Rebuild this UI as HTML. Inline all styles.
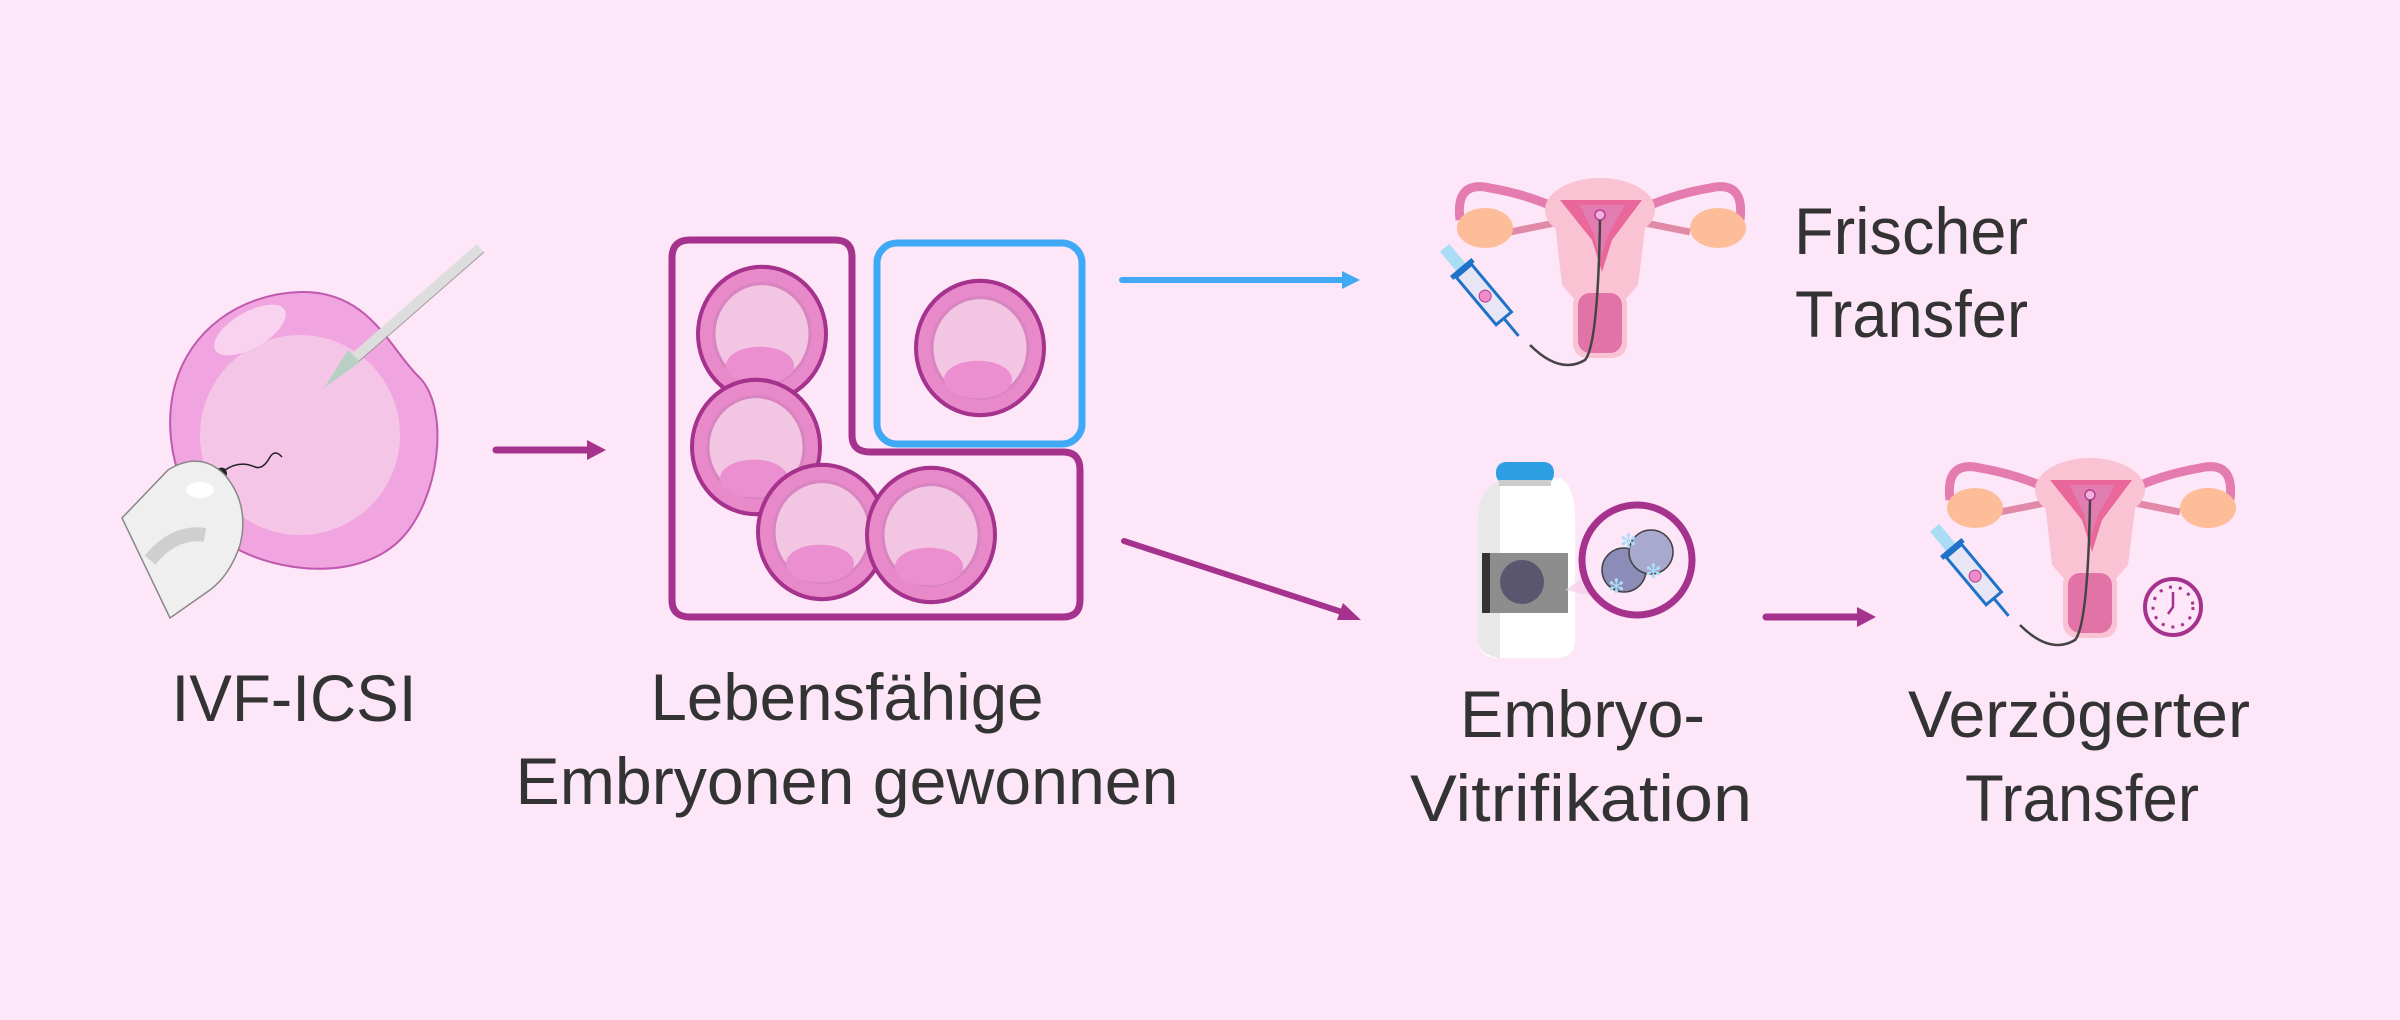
<!DOCTYPE html>
<html><head><meta charset="utf-8"><style>
html,body{margin:0;padding:0;background:#fde6f8;}
svg{display:block;}
text{font-family:"Liberation Sans",sans-serif;fill:#333;font-size:66px;}
</style></head><body>
<svg width="2400" height="1020" viewBox="0 0 2400 1020" xmlns="http://www.w3.org/2000/svg">
<defs>
<g id="emb">
  <circle r="64" fill="#e889c9" stroke="#a5328c" stroke-width="4"/>
  <circle r="48" fill="#f2c6e2" stroke="#d884c0" stroke-width="3"/>
  <ellipse cx="-2" cy="30" rx="34" ry="18" fill="#ec8fd0"/>
</g>
<g id="ut">
  <path d="M40,60 Q35,20 70,28 Q110,35 140,50 L150,45" stroke="#e57cb0" stroke-width="9" fill="none"/>
  <path d="M320,60 Q325,20 290,28 Q250,35 220,50 L210,45" stroke="#e57cb0" stroke-width="9" fill="none"/>
  <path d="M90,72 L140,62 M270,72 L220,62" stroke="#e08aa8" stroke-width="7"/>
  <ellipse cx="65" cy="68" rx="28" ry="20" fill="#fcbd98"/>
  <ellipse cx="298" cy="68" rx="28" ry="20" fill="#fcbd98"/>
  <ellipse cx="180" cy="50" rx="55" ry="32" fill="#f9c3d4"/>
  <path d="M133,45 Q180,35 228,45 L218,125 L205,140 L155,140 L142,125 Z" fill="#f9c3d4"/>
  <rect x="153" y="130" width="54" height="68" rx="14" fill="#f9c3d4"/>
  <rect x="158" y="133" width="44" height="60" rx="12" fill="#e273a6"/>
  <path d="M140,40 L222,40 L192,80 L182,112 L172,80 Z" fill="#e9679b"/>
  <path d="M160,45 L205,45 L188,75 L180,100 L174,75 Z" fill="#e27db2"/>
  <circle cx="180" cy="55" r="5" fill="#f3b0dc" stroke="#b04090" stroke-width="1.5"/>
  <path d="M110,185 Q140,215 165,200 Q178,185 180,60" stroke="#444" stroke-width="2.5" fill="none"/>
  <g transform="translate(60,130) rotate(50)">
    <rect x="-55" y="-6" width="30" height="12" fill="#a9dcf5"/>
    <rect x="-25" y="-10" width="62" height="20" fill="#e8e6f5" stroke="#1e73c8" stroke-width="3"/>
    <rect x="-30" y="-14" width="5" height="28" fill="#1e73c8"/>
    <circle cx="8" cy="0" r="6" fill="#f08acb" stroke="#b04090" stroke-width="1"/>
    <line x1="37" y1="0" x2="60" y2="0" stroke="#1e73c8" stroke-width="3"/>
  </g>
</g>
</defs>

<!-- egg -->
<path d="M300,292 C370,290 390,350 420,378 C450,410 440,500 400,540 C360,580 280,575 230,545 C180,510 160,440 175,385 C190,330 240,294 300,292 Z" fill="#f0a4e0" stroke="#c158b0" stroke-width="2"/>
<circle cx="300" cy="435" r="100" fill="#f5c5e8"/>
<ellipse cx="250" cy="330" rx="40" ry="18" fill="#f9d2f0" transform="rotate(-30 250 330)"/>
<path d="M223,478 q-10,-5 -4,-10 q8,-2 8,7 z" fill="#222"/>
<path d="M225,470 q15,-10 30,-3 q8,3 15,-10 q5,-8 12,0" stroke="#222" stroke-width="1.5" fill="none"/>
<line x1="480" y1="248" x2="352" y2="360" stroke="#ddd" stroke-width="10"/>
<line x1="480" y1="248" x2="352" y2="360" stroke="#999" stroke-width="1" transform="translate(4,4)"/>
<path d="M348,350 L360,362 L324,388 Z" fill="#b8d0c4"/>
<path d="M122,518 L168,470 Q200,450 225,475 Q250,505 240,545 Q230,575 210,590 L170,618 Z" fill="#efefef" stroke="#888" stroke-width="1.5"/>
<path d="M150,560 Q175,530 205,535" stroke="#cfcfcf" stroke-width="14" fill="none"/>
<ellipse cx="200" cy="490" rx="14" ry="8" fill="#fff"/>

<!-- arrow 1 -->
<line x1="496" y1="450" x2="590" y2="450" stroke="#a5328c" stroke-width="7" stroke-linecap="round"/>
<path d="M587,440 L606,450 L587,460 Z" fill="#a5328c"/>

<!-- boxes -->
<path d="M690,240 H835 Q852,240 852,257 V435 Q852,452 870,452 H1063 Q1080,452 1080,470 V600 Q1080,617 1063,617 H690 Q672,617 672,600 V258 Q672,240 690,240 Z" fill="none" stroke="#a5328c" stroke-width="7"/>
<rect x="877" y="243" width="205" height="201" rx="20" fill="none" stroke="#3fa9f5" stroke-width="7"/>
<use href="#emb" transform="translate(762,334) scale(1,1.05)"/>
<use href="#emb" transform="translate(756,447) scale(1,1.05)"/>
<use href="#emb" transform="translate(822,532) scale(1,1.05)"/>
<use href="#emb" transform="translate(931,535) scale(1,1.05)"/>
<use href="#emb" transform="translate(980,348) scale(1,1.05)"/>

<!-- connectors -->
<line x1="1122" y1="280" x2="1345" y2="280" stroke="#3fa9f5" stroke-width="6" stroke-linecap="round"/>
<path d="M1342,271 L1360,280 L1342,289 Z" fill="#3fa9f5"/>
<line x1="1124" y1="541" x2="1345" y2="613" stroke="#a5328c" stroke-width="6" stroke-linecap="round"/>
<path d="M1343,603 L1361,620 L1337,620 Z" fill="#a5328c"/>
<line x1="1766" y1="617" x2="1860" y2="617" stroke="#a5328c" stroke-width="7" stroke-linecap="round"/>
<path d="M1857,607 L1876,617 L1857,627 Z" fill="#a5328c"/>

<!-- uteri -->
<use href="#ut" transform="translate(1420,160)"/>
<use href="#ut" transform="translate(1910,440)"/>
<circle cx="2173" cy="607" r="28" fill="none" stroke="#a5328c" stroke-width="4"/>
<circle cx="2173" cy="607" r="20" fill="none" stroke="#a5328c" stroke-width="3" stroke-dasharray="3 7"/>
<path d="M2173,592 V607 L2168,614" stroke="#a5328c" stroke-width="2.5" fill="none"/>

<!-- bottle -->
<path d="M1478,520 Q1478,485 1510,478 H1560 Q1575,485 1575,520 V640 Q1575,658 1555,658 H1500 Q1478,658 1478,640 Z" fill="#fff"/>
<path d="M1478,520 Q1478,490 1500,480 V658 Q1478,655 1478,640 Z" fill="#e8e8e8"/>
<rect x="1496" y="462" width="58" height="22" rx="10" fill="#2e9ee3"/>
<rect x="1499" y="480" width="52" height="6" fill="#ccc"/>
<rect x="1482" y="553" width="86" height="60" fill="#8d8d8d"/>
<rect x="1482" y="553" width="8" height="60" fill="#333"/>
<circle cx="1522" cy="582" r="22" fill="#5a5670"/>
<path d="M1565,590 L1610,560 L1610,600 Z" fill="#f3cfe8" opacity="0.7"/>
<circle cx="1637" cy="560" r="55" fill="#fde6f8" stroke="#a5328c" stroke-width="7"/>
<circle cx="1624" cy="570" r="22" fill="#8d8cb8" stroke="#444" stroke-width="1.5"/>
<circle cx="1651" cy="552" r="22" fill="#a9a8cf" stroke="#444" stroke-width="1.5"/>
<text x="1620" y="548" style="font-size:20px;fill:#a9dcf5">✻</text>
<text x="1608" y="593" style="font-size:20px;fill:#a9dcf5">✻</text>
<text x="1645" y="578" style="font-size:20px;fill:#a9dcf5">✻</text>

<!-- labels -->
<text x="294" y="721" text-anchor="middle" textLength="245" lengthAdjust="spacingAndGlyphs">IVF-ICSI</text>
<text x="847" y="720" text-anchor="middle" textLength="393" lengthAdjust="spacingAndGlyphs">Lebensfähige</text>
<text x="847" y="804" text-anchor="middle" textLength="663" lengthAdjust="spacingAndGlyphs">Embryonen gewonnen</text>
<text x="1794" y="254" textLength="234" lengthAdjust="spacingAndGlyphs">Frischer</text>
<text x="1795" y="337" textLength="233" lengthAdjust="spacingAndGlyphs">Transfer</text>
<text x="1460" y="737" textLength="245" lengthAdjust="spacingAndGlyphs">Embryo-</text>
<text x="1410" y="821" textLength="342" lengthAdjust="spacingAndGlyphs">Vitrifikation</text>
<text x="1908" y="737" textLength="342" lengthAdjust="spacingAndGlyphs">Verzögerter</text>
<text x="1965" y="821" textLength="234" lengthAdjust="spacingAndGlyphs">Transfer</text>
</svg>
</body></html>
